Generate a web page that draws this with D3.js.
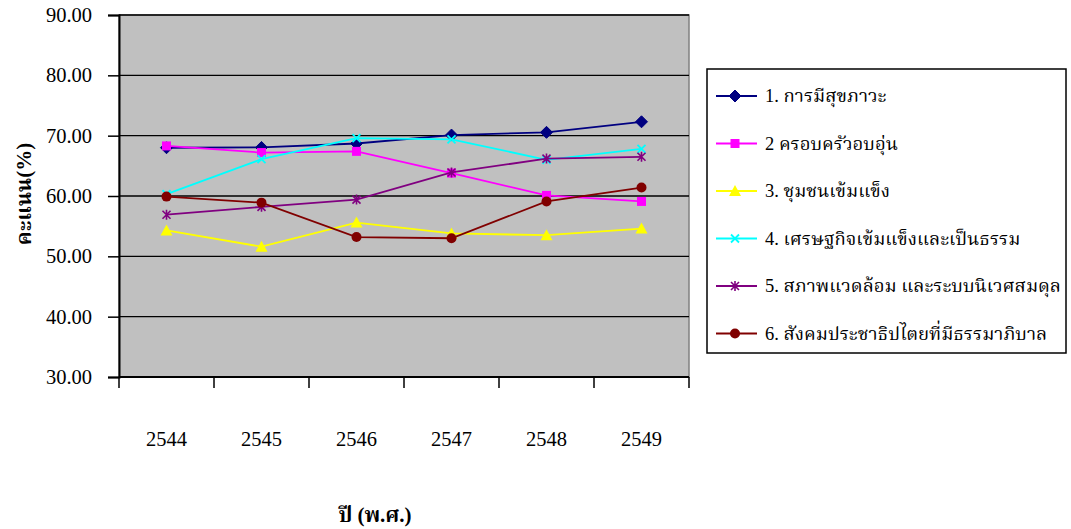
<!DOCTYPE html>
<html><head><meta charset="utf-8">
<script src="https://cdn.jsdelivr.net/npm/d3@7/dist/d3.min.js"></script>
<style>body{margin:0;background:#fff}svg{display:block}</style>
</head><body>
<script>
const years = ["2544","2545","2546","2547","2548","2549"];
const seriesNames = ["1. การมีสุขภาวะ","2 ครอบครัวอบอุ่น","3. ชุมชนเข้มแข็ง","4. เศรษฐกิจเข้มแข็งและเป็นธรรม","5. สภาพแวดล้อม และระบบนิเวศสมดุล","6. สังคมประชาธิปไตยที่มีธรรมาภิบาล"];
const s1 = [68.0, 68.05, 68.7, 70.1, 70.55, 72.3];
const s2 = [68.3, 67.2, 67.4, 63.8, 60.1, 59.1];
const s3 = [54.3, 51.6, 55.6, 53.8, 53.5, 54.6];
const s4 = [60.3, 66.1, 69.6, 69.4, 66.0, 67.8];
const s5 = [56.9, 58.2, 59.4, 63.9, 66.2, 66.5];
const s6 = [59.9, 58.9, 53.2, 53.0, 59.1, 61.4];
const colors = ["#000080","#FF00FF","#FFFF00","#00FFFF","#800080","#800000"];
const markers = ["diamond","square","triangle","x","star","circle"];
const yTicks = [30,40,50,60,70,80,90];

const W=1071,H=529;
const svg=d3.select("body").append("svg").attr("width",W).attr("height",H);
const x=d3.scaleBand().domain(years).range([119,689]);
const y=d3.scaleLinear().domain([30,90]).range([377,15]);
const font="Liberation Serif, Times New Roman, Noto Serif Thai, Kinnari, Norasi, serif";

svg.append("rect").attr("x",119).attr("y",15).attr("width",570).attr("height",362)
  .attr("fill","#C0C0C0").attr("stroke","#808080").attr("stroke-width",1.5);
svg.append("g").selectAll("line").data(yTicks.filter(d=>d>30)).join("line")
  .attr("x1",119).attr("x2",689).attr("y1",d=>y(d)).attr("y2",d=>y(d))
  .attr("stroke","#000").attr("stroke-width",1.3);
const ya=svg.append("g").attr("transform","translate(119,0)")
  .call(d3.axisLeft(y).tickValues(yTicks).tickSize(11).tickPadding(16).tickFormat(d3.format(".2f")));
ya.attr("font-family",null).attr("font-size",null);
ya.select(".domain").attr("stroke","#000").attr("stroke-width",2);
ya.selectAll(".tick line").attr("stroke","#000").attr("stroke-width",1.5);
ya.selectAll("text").style("font-family",font).style("font-size","20.5px").attr("fill","#000");

const tickPos=[119].concat(years.map(d=>x(d)+x.bandwidth()));
svg.append("line").attr("x1",119).attr("x2",689).attr("y1",377).attr("y2",377).attr("stroke","#000").attr("stroke-width",2);
svg.append("g").selectAll("line").data(tickPos).join("line")
  .attr("x1",d=>d).attr("x2",d=>d).attr("y1",377).attr("y2",388).attr("stroke","#000").attr("stroke-width",1.5);
svg.append("g").selectAll("text").data(years).join("text")
  .attr("x",d=>x(d)+x.bandwidth()/2).attr("y",446).attr("text-anchor","middle")
  .style("font-family",font).style("font-size","20.5px").text(d=>d);

svg.append("text").attr("x",375).attr("y",522).attr("text-anchor","middle")
  .style("font-family",font).style("font-size","21px").style("font-weight","bold").text("ปี (พ.ศ.)");
svg.append("text").attr("transform","translate(31,194) rotate(-90)").attr("text-anchor","middle")
  .style("font-family",font).style("font-size","21px").style("font-weight","bold").text("คะแนน(%)");

function drawMarker(g,type,cx,cy,color){
  if(type==="diamond") g.append("path").attr("d",`M${cx},${cy-6}L${cx+6},${cy}L${cx},${cy+6}L${cx-6},${cy}Z`).attr("fill",color).attr("stroke",color);
  else if(type==="square") g.append("rect").attr("x",cx-4.5).attr("y",cy-4.5).attr("width",9).attr("height",9).attr("fill",color);
  else if(type==="triangle") g.append("path").attr("d",`M${cx},${cy-6}L${cx+6},${cy+5}L${cx-6},${cy+5}Z`).attr("fill",color);
  else if(type==="circle") g.append("circle").attr("cx",cx).attr("cy",cy).attr("r",5).attr("fill",color);
  else if(type==="x") g.append("path").attr("d",`M${cx-4},${cy-4}L${cx+4},${cy+4}M${cx-4},${cy+4}L${cx+4},${cy-4}`).attr("stroke",color).attr("stroke-width",1.8);
  else if(type==="star") g.append("path").attr("d",`M${cx-4},${cy-4}L${cx+4},${cy+4}M${cx-4},${cy+4}L${cx+4},${cy-4}M${cx},${cy-5}L${cx},${cy+5}`).attr("stroke",color).attr("stroke-width",1.6);
}

const allSeries=[s1,s2,s3,s4,s5,s6];
const line=d3.line().x((d,i)=>x(years[i])+x.bandwidth()/2).y(d=>y(d));
allSeries.forEach((s,k)=>{
  const g=svg.append("g");
  g.append("path").attr("d",line(s)).attr("fill","none").attr("stroke",colors[k]).attr("stroke-width",1.8);
  s.forEach((v,i)=>drawMarker(g,markers[k],x(years[i])+x.bandwidth()/2,y(v),colors[k]));
});

const lg=svg.append("g");
lg.append("rect").attr("x",707).attr("y",69).attr("width",359).attr("height",284).attr("fill","#fff").attr("stroke","#000").attr("stroke-width",1.5);
seriesNames.forEach((n,k)=>{
  const cy=96+k*47.5;
  lg.append("line").attr("x1",716).attr("x2",757).attr("y1",cy).attr("y2",cy).attr("stroke",colors[k]).attr("stroke-width",1.8);
  drawMarker(lg,markers[k],735,cy,colors[k]);
  lg.append("text").attr("x",765).attr("y",cy+6).style("font-family",font).style("font-size","18.5px").text(n);
});
</script>
</body></html>
